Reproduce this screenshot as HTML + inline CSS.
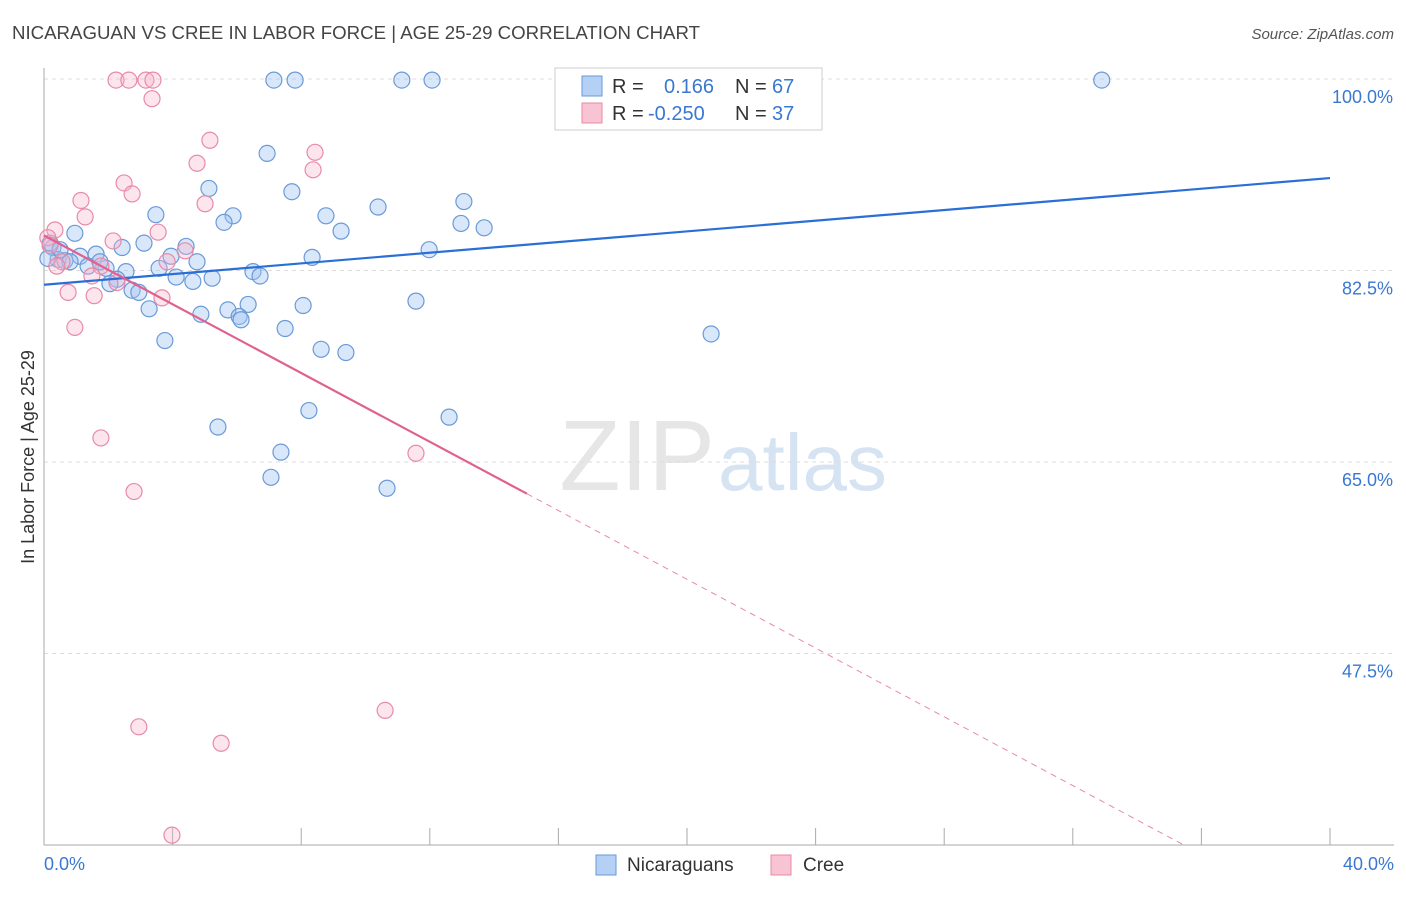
<!DOCTYPE html>
<html><head><meta charset="utf-8"><style>
body{margin:0;background:#fff;font-family:"Liberation Sans",sans-serif;}
svg text{font-family:"Liberation Sans",sans-serif;}
</style></head><body>
<svg id="chart" width="1406" height="892" xmlns="http://www.w3.org/2000/svg">
<text x="12" y="39" font-size="18" fill="#444" textLength="688" lengthAdjust="spacingAndGlyphs">NICARAGUAN VS CREE IN LABOR FORCE | AGE 25-29 CORRELATION CHART</text>
<text x="1394" y="39" font-size="15" fill="#555" text-anchor="end" font-style="italic">Source: ZipAtlas.com</text>
<text x="715" y="490" font-size="100" fill="#e6e6e6" text-anchor="end" font-family="Liberation Serif">ZIP</text>
<text x="718" y="490" font-size="80" fill="#d6e3f3">atlas</text>
<text transform="translate(34,457) rotate(-90)" font-size="18" fill="#333" text-anchor="middle">In Labor Force | Age 25-29</text>
<g id="grid"></g><g id="axes"></g><g id="pts"></g><g id="lines"></g>
<g>
<rect x="555" y="68" width="267" height="62" fill="#fff" stroke="#ccc"/>
<rect x="582" y="76" width="20" height="20" fill="#b4d0f4" stroke="#6a9ad8"/>
<rect x="582" y="103" width="20" height="20" fill="#f8c4d4" stroke="#e88aa8"/>
<text x="612" y="93" font-size="20" fill="#333">R = </text><text x="664" y="93" font-size="20" fill="#3a78d0">0.166</text>
<text x="735" y="93" font-size="20" fill="#333">N = </text><text x="772" y="93" font-size="20" fill="#3a78d0">67</text>
<text x="612" y="120" font-size="20" fill="#333">R = </text><text x="648" y="120" font-size="20" fill="#3a78d0">-0.250</text>
<text x="735" y="120" font-size="20" fill="#333">N = </text><text x="772" y="120" font-size="20" fill="#3a78d0">37</text>
</g>
<g>
<rect x="596" y="855" width="20" height="20" fill="#b4d0f4" stroke="#6a9ad8"/>
<text x="627" y="871" font-size="19" fill="#333">Nicaraguans</text>
<rect x="771" y="855" width="20" height="20" fill="#f8c4d4" stroke="#e88aa8"/>
<text x="803" y="871" font-size="19" fill="#333">Cree</text>
</g>
</svg>
<script>
const yTicks=[100,82.5,65,47.5];
const yTickLabels=["100.0%","82.5%","65.0%","47.5%"];
const xTickVals=[4,8,12,16,20,24,28,32,36,40];
const blueX=[7.15,7.81,11.13,12.07,32.9,6.94,5.13,7.71,13.06,10.39,3.48,5.88,5.60,8.77,12.97,13.69,9.24,0.96,3.11,4.42,2.43,11.98,0.28,1.62,1.12,8.34,3.95,4.76,0.44,0.65,1.37,3.58,1.93,6.50,6.72,2.55,4.11,5.23,2.27,4.63,2.05,2.74,2.95,11.57,8.06,6.35,5.72,3.27,6.07,6.13,4.88,7.50,20.75,3.76,8.62,9.39,8.24,12.60,5.41,7.37,7.06,10.67,0.19,0.50,0.81,0.12,1.74];
const blueY=[99.9,99.9,99.9,99.9,99.9,93.2,90.0,89.7,88.8,88.3,87.6,87.5,86.9,87.5,86.8,86.4,86.1,85.9,85.0,84.7,84.6,84.4,84.6,84.0,83.8,83.7,83.8,83.3,83.5,83.4,82.9,82.7,82.7,82.4,82.0,82.4,81.9,81.8,81.7,81.5,81.3,80.7,80.5,79.7,79.3,79.4,78.9,79.0,78.3,78.0,78.5,77.2,76.7,76.1,75.3,75.0,69.7,69.1,68.2,65.9,63.6,62.6,85.0,84.4,83.3,83.6,83.3];
const pinkX=[2.24,2.64,3.17,3.39,3.36,5.16,8.43,4.76,8.37,2.49,2.74,1.15,5.01,1.28,0.34,3.55,2.15,0.12,4.39,3.83,0.56,1.77,1.49,2.27,0.75,1.56,3.67,0.96,11.57,1.77,2.80,2.95,10.61,5.51,3.98,0.40,0.19];
const pinkY=[99.9,99.9,99.9,99.9,98.2,94.4,93.3,92.3,91.7,90.5,89.5,88.9,88.6,87.4,86.2,86.0,85.2,85.5,84.3,83.3,83.3,82.9,82.0,81.4,80.5,80.2,80.0,77.3,65.8,67.2,62.3,40.8,42.3,39.3,30.9,82.9,84.8];
const blueTrend=[81.2,90.95];
const pinkTrend=[85.7,-1.571];
const pinkSolidEnd=15.02;
const xs=v=>44+v/40*1286, ys=v=>79+(100-v)*10.943;
const NS="http://www.w3.org/2000/svg";
function mk(t,a,p){const e=document.createElementNS(NS,t);for(const k in a)e.setAttribute(k,a[k]);document.getElementById(p).appendChild(e);return e;}
yTicks.forEach((v,i)=>{
 const l=mk('line',{x1:44,x2:1394,y1:ys(v),y2:ys(v),stroke:'#ddd','stroke-dasharray':'4,4'},'grid');
 
 
 const t=mk('text',{x:1393,y:ys(v)+24,'font-size':18,fill:'#3a78d0','text-anchor':'end'},'grid');
 t.textContent=yTickLabels[i];
 
 
});
let a=mk('line',{x1:44,x2:44,y1:68,y2:845,stroke:'#aaa'},'axes');


a=mk('line',{x1:44,x2:1394,y1:845,y2:845,stroke:'#aaa'},'axes');


xTickVals.forEach(v=>{const t=mk('line',{x1:xs(v),x2:xs(v),y1:828,y2:845,stroke:'#aaa'},'axes');
 
 });
let t=mk('text',{x:44,y:870,'font-size':18,fill:'#3a78d0'},'axes');t.textContent='0.0%';


t=mk('text',{x:1394,y:870,'font-size':18,fill:'#3a78d0','text-anchor':'end'},'axes');t.textContent='40.0%';


blueX.forEach((x,i)=>{const c=mk('circle',{cx:xs(x),cy:ys(blueY[i]),r:8,fill:'rgba(160,196,242,0.4)',stroke:'#6a9ad8','stroke-width':1.2},'pts');
 
 });
pinkX.forEach((x,i)=>{const c=mk('circle',{cx:xs(x),cy:ys(pinkY[i]),r:8,fill:'rgba(245,180,204,0.35)',stroke:'#e88aa8','stroke-width':1.2},'pts');
 
 });
let L=mk('line',{x1:xs(0),y1:ys(blueTrend[0]),x2:xs(40),y2:ys(blueTrend[1]),stroke:'#2a6fd6','stroke-width':2.2},'lines');


const pf=x=>pinkTrend[0]+pinkTrend[1]*x;
L=mk('line',{x1:xs(0),y1:ys(pf(0)),x2:xs(pinkSolidEnd),y2:ys(pf(pinkSolidEnd)),stroke:'#e06090','stroke-width':2.2},'lines');


const xe=(pinkTrend[0]-30)/-pinkTrend[1];
L=mk('line',{x1:xs(pinkSolidEnd),y1:ys(pf(pinkSolidEnd)),x2:xs(xe),y2:ys(30),stroke:'#e88aa8','stroke-width':1,'stroke-dasharray':'6,5'},'lines');


</script>
</body></html>
